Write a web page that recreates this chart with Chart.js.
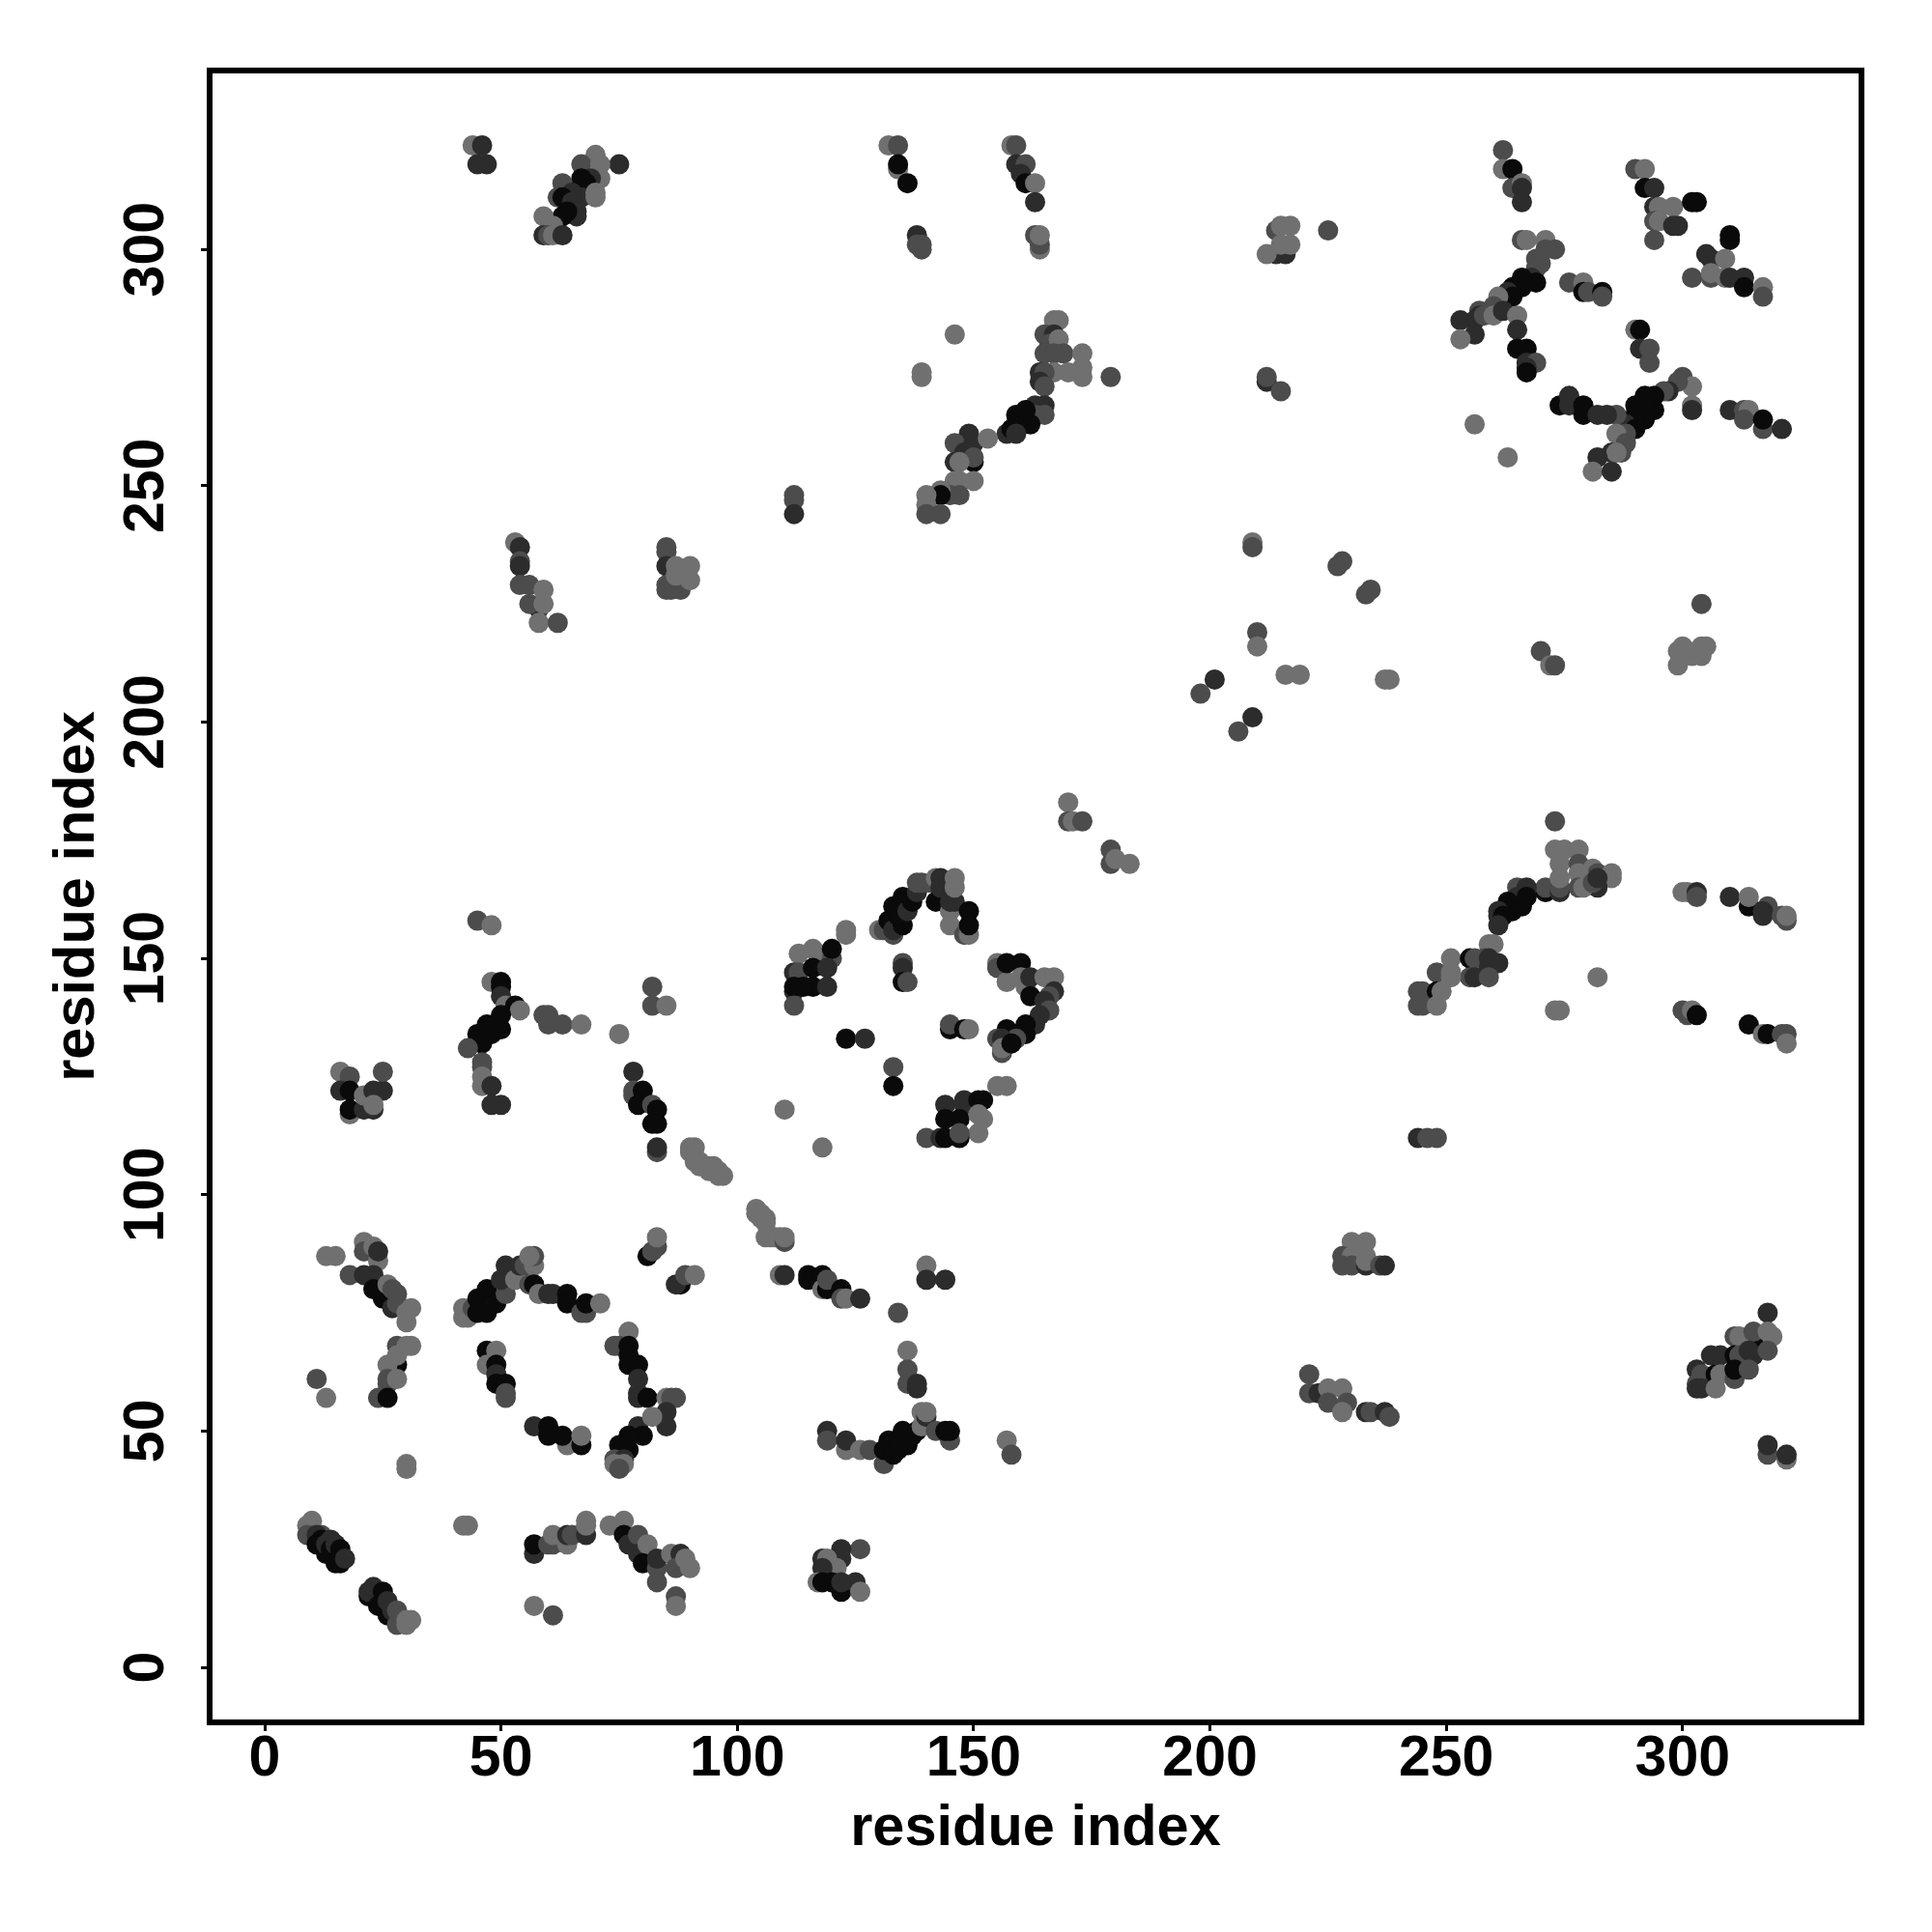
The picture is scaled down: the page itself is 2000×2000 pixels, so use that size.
<!DOCTYPE html>
<html><head><meta charset="utf-8">
<style>html,body{margin:0;padding:0;background:#fff}canvas{display:block}</style>
<script src="https://cdn.jsdelivr.net/npm/chart.js@4"></script>
</head><body><canvas id="c" width="2000" height="2000"></canvas>
<script>
// each row: residue i, residue j, contact level (0 darkest .. 3 lightest)
const lowLeftA=[[10,31,3],[9,30,3],[9,28,2],[12,28,2],[11,28,1],[11,26,0],[12,27,0],[13,24,0],[13,26,1],[14,27,1],[14,25,0],[15,26,1],[15,22,0],[16,25,0],[16,23,0],[16,22,0],[17,23,1]];
const lowLeftB=[[22,15,0],[22,16,1],[23,17,1],[25,16,0],[24,13,0],[26,11,0],[26,14,1],[27,12,1],[28,9,2],[28,12,2],[30,9,3],[30,10,3],[31,10,3]];
const leftC=[[13,87,3],[15,87,3],[21,90,3],[21,88,2],[23,89,3],[24,86,3],[24,88,1],[18,83,2],[21,83,1],[23,83,1],[23,80,0],[25,78,0],[27,76,1],[26,81,3],[27,80,2],[28,79,2],[28,77,2],[30,73,3],[30,75,3],[31,76,3]];
const leftD=[[28,64,0],[28,68,2],[30,68,3],[31,68,3],[26,64,3],[28,66,3],[26,60,2],[26,61,2],[28,61,3],[24,57,2],[26,57,0],[11,61,2],[13,57,3],[30,43,3],[30,42,3]];
const ringTop=[[42,76,3],[42,74,3],[43,74,3],[44,76,2],[45,75,0],[45,78,0],[47,75,0],[47,80,0],[49,77,0],[51,79,2],[50,82,1],[51,85,1],[53,82,3],[54,85,1],[55,85,2],[57,85,3],[57,87,2],[56,87,3],[56,81,2],[57,81,0],[58,79,3],[60,79,1],[61,79,1],[64,79,0],[64,77,0],[67,75,2],[68,75,2],[68,77,0],[71,77,3]];
const ringLeft=[[47,67,0],[49,67,3],[47,64,3],[49,64,0],[49,62,1],[49,60,0],[51,60,0],[51,58,2],[51,57,2]];
const ringRight=[[77,71,3],[74,68,2],[75,68,2],[77,68,0],[77,66,0],[77,64,0],[79,64,0],[79,61,1],[79,58,1],[79,57,1],[81,57,0],[85,57,3],[87,57,2],[86,57,2],[85,54,1],[85,51,1],[79,51,1],[82,53,3],[80,49,0],[77,49,0],[75,47,0],[77,46,0],[74,44,2],[76,44,1],[74,43,3],[76,43,3],[75,42,2]];
const ringBottom=[[57,51,1],[60,51,0],[60,49,0],[64,47,3],[63,49,0],[67,47,0],[67,49,3]];
const lowMid=[[57,24,1],[57,26,0],[60,26,2],[61,26,2],[61,28,3],[64,26,3],[64,28,1],[65,28,2],[68,28,1],[68,30,3],[68,31,3],[57,13,3],[61,11,2],[42,30,3],[43,30,3]];
const lowMidB=[[73,30,3],[76,31,3],[76,28,0],[77,26,1],[78,26,1],[79,28,2],[79,24,1],[81,26,3],[80,22,0],[83,21,2],[83,23,1],[83,18,2],[86,24,3],[88,24,1],[87,21,2],[89,23,3],[90,21,3],[87,15,2],[87,13,3]];
const diagonalA=[[81,87,0],[82,88,2],[83,89,2],[83,91,3],[88,81,0],[87,81,1],[89,83,2],[91,83,3],[90,110,3],[90,109,3],[91,110,3],[91,108,3],[91,107,3],[92,107,3],[92,106,3],[94,106,3],[95,106,3],[94,105,3],[95,105,3],[96,105,3],[96,104,3],[97,104,3],[104,97,3],[105,96,3],[104,96,3],[105,95,3],[106,95,3],[106,94,3],[106,91,3],[107,91,3],[108,91,3],[109,91,3],[110,90,2],[110,91,3]];
const row80=[[109,83,3],[110,83,1],[115,82,0],[115,83,0],[118,83,0],[118,80,3],[119,80,0],[119,82,2],[122,80,0],[122,78,2],[123,78,3],[126,78,1],[140,85,3],[140,82,1],[144,82,1],[134,75,2],[136,67,3],[136,63,2],[136,60,2],[138,59,1],[138,60,1]];
const row50=[[119,50,1],[119,48,2],[123,46,3],[123,48,1],[126,46,3],[128,46,2],[131,43,2],[131,46,0],[132,48,0],[133,45,0],[134,46,0],[134,48,0],[135,50,0],[136,47,0],[137,49,0],[138,50,0],[139,51,3],[139,54,3],[140,53,1],[140,54,3],[142,50,2],[145,48,2],[144,50,0],[145,50,0],[157,48,3],[158,45,2]];
const low120=[[126,25,2],[122,23,1],[122,25,1],[118,23,1],[119,23,3],[121,21,3],[118,21,1],[117,18,3],[118,18,0],[120,18,0],[122,16,0],[122,18,1],[125,18,1],[126,16,3]];
const mid120=[[45,158,2],[48,157,3],[48,145,3],[50,145,0],[50,144,0],[50,142,1],[51,140,3],[53,140,0],[54,139,3],[50,138,0],[49,136,0],[50,135,0],[47,136,0],[48,134,0],[45,134,0],[46,132,0],[43,131,2],[46,128,2],[46,127,2],[46,125,3],[46,123,3],[48,123,1],[48,119,1],[50,119,1],[59,138,2],[60,138,2],[60,136,2],[63,136,2],[67,136,3],[75,134,3],[82,144,2],[82,140,2],[85,140,3]];
const mid20=[[16,126,3],[18,125,2],[16,122,1],[18,122,0],[18,117,3],[18,118,0],[21,118,1],[21,121,3],[23,122,1],[25,122,1],[25,126,2],[23,118,1],[23,119,3]];
const mid80=[[78,126,1],[78,121,2],[78,122,2],[80,122,0],[79,119,0],[82,119,2],[83,118,0],[82,115,0],[83,115,0],[83,109,2],[83,110,1],[110,118,3],[118,110,3]];
const farDiag=[[170,183,3],[170,179,2],[171,179,3],[173,179,2],[179,173,2],[179,170,2],[180,171,3],[183,170,3]];
const diamondTop=[[123,156,3],[123,155,3],[130,156,3],[131,156,2],[132,158,0],[133,155,2],[133,156,1],[135,157,0],[133,161,0],[134,159,0],[135,163,0],[136,160,1],[137,162,0],[138,164,1],[138,166,2],[139,166,2],[141,166,2],[142,162,0],[142,167,3],[143,167,1],[143,165,1],[145,160,3],[145,157,3],[145,162,1],[146,162,1],[146,165,3],[146,167,3],[148,155,2],[149,155,3],[149,160,0],[149,157,0]];
const diamondLeft=[[113,151,3],[116,152,3],[117,151,3],[120,150,2],[120,152,0],[112,147,1],[113,147,2],[116,148,0],[116,144,0],[119,148,1],[112,143,1],[112,144,0],[114,144,0],[119,144,1],[112,140,2]];
const diamondIn=[[135,149,2],[135,148,1],[135,145,0],[136,145,2],[123,133,0],[127,133,1],[133,127,2],[133,123,0],[145,135,0],[145,136,2],[148,135,0],[149,135,3]];
const diamondRight=[[155,149,3],[155,148,2],[157,145,3],[157,149,0],[160,149,0],[160,146,3],[161,144,3],[162,146,1],[165,146,3],[167,146,3],[162,142,0],[167,143,1],[166,142,2],[165,141,1],[166,139,2],[164,138,1],[163,136,1],[161,136,0],[161,134,0],[159,134,0],[157,135,0],[157,133,0],[159,133,2],[155,133,2],[156,133,1],[156,130,2],[156,131,3],[158,132,0]];
const diamondLow=[[155,123,3],[157,123,3],[144,119,1],[148,120,1],[148,119,1],[151,120,0],[152,120,0],[144,116,0],[147,116,0],[151,117,3],[152,116,3],[151,113,3],[140,112,2],[143,112,1],[144,112,0],[147,112,0],[147,113,2]];
const topRightA=[[262,321,2],[262,317,3],[264,317,0],[264,313,2],[266,314,3],[266,313,1],[266,310,1],[290,317,2],[292,317,3],[292,313,0],[294,313,1],[294,309,1],[295,309,3],[298,309,3],[294,306,2],[295,306,3],[298,305,1],[299,305,1],[294,302,2],[302,310,0],[303,310,0]];
const topRightB=[[310,303,0],[310,302,0],[305,299,1],[306,298,1],[309,298,3],[302,294,2],[306,294,2],[306,295,3],[309,294,3],[310,294,1],[313,294,1],[313,292,0],[317,292,3],[317,290,2]];
const arcA=[[266,302,2],[267,302,3],[271,302,3],[271,300,2],[273,300,2],[269,298,2],[270,297,2],[269,296,2],[268,294,1],[269,293,0],[266,294,0],[266,292,0],[264,292,0],[263,291,1],[264,290,0],[261,290,3],[260,288,2],[257,287,2],[257,286,1],[253,285,1],[256,285,1],[258,286,2],[260,286,3],[262,287,1],[265,286,3],[265,283,1],[265,279,0],[267,279,0],[267,276,1],[269,276,2],[267,275,1],[267,274,0],[256,282,1],[253,281,3]];
const arcB=[[276,293,2],[279,293,3],[279,291,0],[280,291,2],[283,291,0],[283,290,2],[290,283,3],[291,283,0],[291,279,1],[293,279,2],[293,276,2]];
const arcC=[[300,273,2],[302,271,3],[299,272,2],[297,270,1],[296,270,2],[294,269,0],[292,269,0],[294,266,0],[292,267,0],[290,267,0],[290,265,0],[292,264,0],[290,263,0],[288,263,1],[290,262,0],[286,265,2],[288,261,2],[286,261,3],[288,259,2],[285,257,1],[287,257,2],[286,257,3],[282,256,1],[281,253,3],[285,253,1]];
const arcD=[[256,263,3],[263,256,3],[274,267,0],[276,269,1],[276,267,1],[279,267,0],[279,265,0],[282,265,1],[284,265,1],[302,267,3],[302,266,1],[310,266,1],[313,266,2],[314,266,3],[313,264,2],[317,262,2],[317,264,0],[321,262,1]];
const topLeft=[[44,322,3],[46,322,1],[45,318,1],[47,318,1],[75,318,1],[70,320,3],[67,318,2],[71,318,3],[71,315,3],[69,315,1],[67,315,0],[68,314,0],[63,314,2],[67,311,1],[70,311,3],[70,312,3],[65,312,1],[62,311,2],[63,311,0],[65,310,1],[66,307,1],[66,308,1],[64,308,0],[63,307,0],[59,307,3],[61,305,3],[59,303,1],[60,303,2],[61,303,3],[63,303,1]];
const topMid=[[132,322,3],[134,322,2],[134,317,3],[134,318,0],[136,314,0],[138,303,1],[138,301,2],[139,301,2],[139,300,2],[158,322,3],[159,322,2],[159,318,1],[161,318,2],[160,316,1],[161,314,0],[163,314,3],[163,310,1],[163,303,2],[164,300,3],[164,301,2],[164,303,3]];
const upperMid=[[167,285,3],[168,285,3],[165,282,2],[167,282,1],[166,280,2],[168,281,3],[165,278,2],[167,278,2],[169,278,2],[173,278,3],[173,275,3],[173,273,3],[170,274,3],[167,274,3],[164,274,1],[165,274,2],[164,272,1],[165,271,2],[179,273,2],[146,282,3],[139,274,3],[139,273,3]];
const chainMid=[[163,267,1],[165,267,1],[165,265,2],[163,265,2],[161,266,0],[160,264,0],[159,265,0],[162,263,0],[159,263,0],[157,261,1],[158,262,0],[159,261,1],[149,261,1],[146,259,2],[150,259,1],[153,260,3],[148,257,1],[146,255,1],[150,255,0],[150,256,2],[147,255,3],[150,251,3],[146,251,3],[147,251,3],[147,248,2],[145,248,2],[143,249,3],[143,248,0],[140,248,3],[140,246,3],[140,244,2],[143,244,2],[112,248,2],[112,247,2],[112,244,1]];
const centerA=[[214,304,2],[215,305,3],[217,305,3],[214,299,1],[216,299,1],[212,299,3],[215,301,3],[217,301,3],[225,304,2],[212,272,1],[212,273,2],[215,270,2]];
const centerC=[[53,238,3],[54,237,1],[54,234,2],[54,233,1],[54,229,2],[56,229,2],[59,228,3],[58,224,1],[56,225,2],[59,225,3],[58,221,3],[62,221,2],[85,236,2],[85,237,2],[85,233,1],[85,229,2],[85,228,2],[86,228,2],[88,228,2],[87,233,3],[87,231,3],[90,233,3],[90,230,3]];
const centerB=[[209,238,3],[209,237,2],[210,219,2],[210,216,3],[216,210,3],[219,210,3],[198,206,2],[201,209,1],[209,201,1],[206,198,2],[227,233,2],[228,234,2],[233,227,2],[234,228,2],[237,209,3],[238,209,3],[270,215,2],[272,212,3],[273,212,2],[304,225,2],[299,215,3],[299,212,3],[300,216,3],[301,215,3],[304,216,3],[305,216,3],[302,214,3],[304,214,3]];
const rightA=[[273,179,2],[273,173,3],[275,173,3],[278,173,3],[274,170,3],[278,170,2],[281,169,3],[282,168,2],[285,168,3],[285,167,3],[278,168,3],[282,165,1],[278,165,2],[279,165,3],[281,166,2],[282,167,1],[271,164,0],[271,165,2],[274,164,1],[274,165,2],[274,167,3]];
const rightE=[[265,165,2],[267,165,1],[265,163,1],[267,163,0],[263,162,0],[266,161,0],[264,160,0],[263,160,0],[261,160,1],[261,159,1],[262,159,0],[261,157,1]];
const rightB=[[259,153,3],[260,153,3],[251,150,3],[255,150,0],[256,150,2],[258,150,2],[259,150,1],[261,149,1],[259,148,1],[255,146,2],[256,146,1],[259,146,2],[248,147,2],[251,147,3],[251,146,3],[244,143,2],[245,143,2],[248,143,0],[249,143,3],[244,140,2],[245,140,2],[248,140,3],[282,146,3],[273,139,3],[274,139,3],[244,112,1],[246,112,2],[248,112,2]];
const rightC=[[300,164,3],[301,164,3],[303,164,1],[303,163,2],[310,163,1],[314,161,0],[314,163,3],[318,161,2],[317,160,1],[317,159,1],[321,159,2],[322,158,2],[322,159,3],[300,139,2],[301,138,2],[302,139,3],[303,138,0],[314,136,0],[317,134,3],[318,134,0],[321,134,2],[322,134,2],[322,132,3]];
const rightD=[[318,75,1],[315,69,0],[311,70,2],[312,70,3],[315,71,2],[318,71,3],[319,70,3],[306,66,1],[308,66,1],[311,66,0],[312,66,2],[314,67,1],[315,66,1],[318,67,2],[303,63,1],[304,62,2],[307,62,0],[308,62,3],[311,61,2],[311,63,0],[314,63,2],[303,60,2],[303,59,1],[304,59,1],[307,59,3],[318,45,2],[318,47,1],[322,44,3],[322,45,1]];
const lowerCenter=[[221,62,2],[221,58,2],[223,58,1],[225,59,3],[228,59,3],[225,56,2],[229,56,2],[228,54,3],[233,54,1],[234,54,2],[237,54,1],[238,53,2],[230,90,3],[233,90,3],[228,87,2],[230,87,3],[233,87,3],[228,85,2],[230,85,2],[233,85,1],[233,86,3],[236,85,2],[237,85,1]];
const tickValues=[0,50,100,150,200,250,300];
const axisTitle="residue index";

const clusters=[lowLeftA,lowLeftB,leftC,leftD,ringTop,ringLeft,ringRight,ringBottom,lowMid,lowMidB,diagonalA,row80,row50,low120,mid120,mid20,mid80,farDiag,diamondTop,diamondLeft,diamondIn,diamondRight,diamondLow,topRightA,topRightB,arcA,arcB,arcC,arcD,topLeft,topMid,upperMid,chainMid,centerA,centerC,centerB,rightA,rightE,rightB,rightC,rightD,lowerCenter];
const points=clusters.flat();
const shades=['#0a0a0a','#2c2c2c','#4c4c4c','#707070'];
const font={family:'"Liberation Sans"',weight:'bold',size:59};
const titleFont={family:'"Liberation Sans"',weight:'bold',size:59.5};
function axis(pad,cross,fit){return {type:'linear',min:-11.65,max:337.85,
  afterBuildTicks(s){s.ticks=tickValues.map(v=>({value:v}));},
  afterFit:fit,
  border:{display:false},
  grid:{drawOnChartArea:false,color:'#000',lineWidth:3,tickLength:9,drawTicks:true},
  ticks:Object.assign({color:'#000',font,autoSkip:false,padding:pad},cross),
  title:{display:true,text:axisTitle,color:'#000',font:titleFont,padding:{top:45,bottom:71}}};}
const box={id:'box',afterDraw(c){const a=c.chartArea,g=c.ctx;g.save();g.strokeStyle='#000';g.lineWidth=6;g.strokeRect(a.left,a.top,a.width,a.height);g.restore();}};
new Chart(document.getElementById('c'),{type:'scatter',
  data:{datasets:[{data:points.map(p=>({x:p[0],y:p[1]})),
    pointBackgroundColor:points.map(p=>shades[p[2]]),pointBorderWidth:0,pointRadius:10.5,pointHoverRadius:10.5}]},
  options:{responsive:false,animation:false,
    layout:{padding:{top:73,right:73,left:0,bottom:0}},
    plugins:{legend:{display:false},tooltip:{enabled:false}},
    scales:{
      x:axis(-6,{maxRotation:0,minRotation:0},s=>{s.height=217;}),
      y:axis(6,{maxRotation:90,minRotation:90,crossAlign:'center'},s=>{s.width=217;})
    }},plugins:[box]});
</script></body></html>
